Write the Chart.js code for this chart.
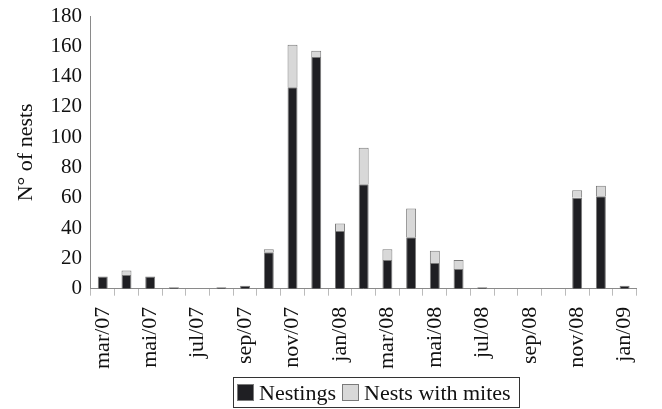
<!DOCTYPE html>
<html>
<head>
<meta charset="utf-8">
<script src="https://cdn.jsdelivr.net/npm/chart.js@4.4.1/dist/chart.umd.min.js"></script>
<style>
  html, body { margin: 0; padding: 0; background: #fff; }
  #wrap { width: 662px; height: 409px; position: relative; }
  #legend {
    position: absolute; left: 233px; top: 377px; height: 29px; width: 285px;
    border: 1px solid #333; display: flex; align-items: center; box-sizing: content-box;
    font-family: 'Liberation Serif', 'Times New Roman', serif; font-size: 22px; line-height: 1; color: #111;
    white-space: nowrap;
  }
  .sw { width: 15px; height: 15px; border: 1px solid #7a7a7a; margin: 0 5px 0 4px; flex: none; }
  .sw:first-child { margin-left: 3px; }
  .item + .item { margin-left: 3px; }
  .item { display: flex; align-items: center; }
</style>
</head>
<body>
<div id="wrap"><canvas id="chart"></canvas><div id="legend"></div></div>
<script>
const MONTHS = [
  "mar/07", "abr/07", "mai/07", "jun/07", "jul/07", "ago/07", "sep/07", "out/07",
  "nov/07", "dez/07", "jan/08", "fev/08", "mar/08", "abr/08", "mai/08", "jun/08",
  "jul/08", "ago/08", "sep/08", "out/08", "nov/08", "dez/08", "jan/09",
];
const NESTINGS = [8, 9, 8, 1, 0, 1, 2, 24, 133, 153, 38, 69, 19, 34, 17, 13, 1, 0, 0, 0, 60, 61, 2];
const WITH_MITES = [0, 3, 0, 0, 0, 0, 0, 2, 28, 4, 5, 24, 7, 19, 8, 6, 0, 0, 0, 0, 5, 7, 0];
const Y_TICKS = [0, 20, 40, 60, 80, 100, 120, 140, 160, 180];

const SERIF = "'Liberation Serif', 'Times New Roman', serif";
const AXIS_GREY = "#8a8a8a";

Chart.defaults.font.family = SERIF;
Chart.defaults.color = "#111";

const chart = new Chart(document.getElementById("chart"), {
  type: "bar",
  data: {
    labels: MONTHS,
    datasets: [
      {
        label: "Nestings",
        data: NESTINGS,
        backgroundColor: "#1f1f23",
        borderColor: "#7a7a7a",
        borderWidth: 1,
        barPercentage: 0.42,
        categoryPercentage: 1,
      },
      {
        label: "Nests with mites",
        data: WITH_MITES,
        backgroundColor: "#d8d8d8",
        borderColor: "#7a7a7a",
        borderWidth: 1,
        barPercentage: 0.42,
        categoryPercentage: 1,
      },
    ],
  },
  options: {
    responsive: true,
    maintainAspectRatio: false,
    animation: false,
    layout: { padding: { top: 16, right: 0, left: 5, bottom: 29 } },
    plugins: {
      tooltip: { enabled: false },
      legend: { display: false },
    },
    scales: {
      x: {
        stacked: true,
        offset: true,
        grid: { display: true, drawOnChartArea: false, drawTicks: true, tickLength: 7, color: "#bbb", offset: true },
        border: { display: true, color: AXIS_GREY, width: 1 },
        ticks: {
          autoSkip: false,
          maxRotation: 90,
          minRotation: 90,
          padding: 11,
          font: { family: SERIF, size: 22 },
          color: "#111",
          callback: function (val, i) {
            return i % 2 === 0 ? MONTHS[i] : "";
          },
        },
      },
      y: {
        stacked: true,
        min: 0,
        max: 180,
        afterBuildTicks(axis) {
          axis.ticks = Y_TICKS.map((v) => ({ value: v }));
        },
        afterFit(axis) {
          axis.paddingTop = 0;
          axis.paddingBottom = 0;
        },
        grid: { display: false, drawTicks: false },
        border: { display: true, color: AXIS_GREY, width: 1 },
        ticks: {
          padding: 9,
          font: { family: SERIF, size: 21 },
          color: "#111",
        },
        title: {
          display: true,
          text: "N° of nests",
          font: { family: SERIF, size: 22 },
          color: "#111",
          padding: { top: 8, bottom: 2 },
        },
      },
    },
  },
});

// legend in a framed box under the axis, built from the datasets
document.getElementById("legend").innerHTML = chart.data.datasets
  .map((ds) => `<span class="item"><span class="sw" style="background:${ds.backgroundColor}"></span>${ds.label}</span>`)
  .join("");
</script>
</body>
</html>
